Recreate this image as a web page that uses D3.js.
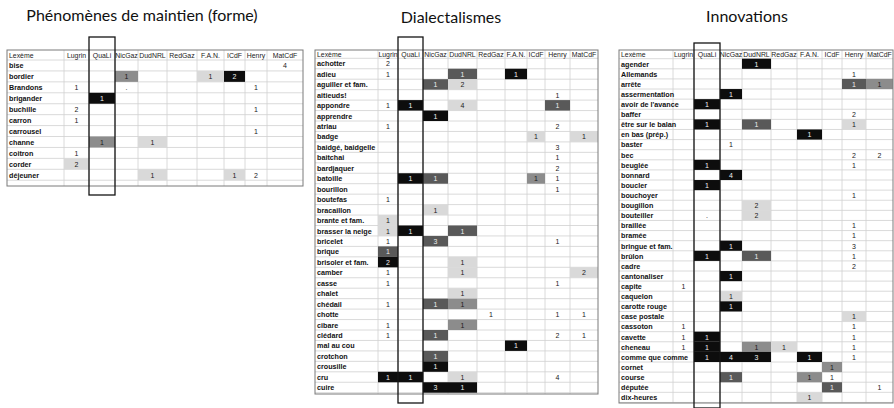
<!DOCTYPE html>
<html>
<head>
<meta charset="utf-8">
<script src="https://cdn.jsdelivr.net/npm/d3@7"></script>
<style>
  body { margin: 0; background: #fff; }
  svg { display: block; }
  text { font-family: "Liberation Sans", Arial, sans-serif; }
</style>
</head>
<body>
<svg id="chart" width="894" height="408"></svg>
<script>
// --- data ---
const columns = ["Lugrin", "QuaLi", "NicGaz", "DudNRL", "RedGaz", "F.A.N.", "ICdF", "Henry", "MatCdF"];
const titles = ["Phénomènes de maintien (forme)", "Dialectalismes", "Innovations"];

// level: 0 = no fill, 1 = light grey, 2 = grey, 3 = dark grey, 4 = black
const formeLexemes = ["bise", "bordier", "Brandons", "brigander", "buchille", "carron", "carrousel",
  "channe", "coitron", "corder", "déjeuner"];
const formeCells = [
  ["bise", "MatCdF", "4", 0],
  ["bordier", "NicGaz", "1", 2], ["bordier", "F.A.N.", "1", 1], ["bordier", "ICdF", "2", 4],
  ["Brandons", "Lugrin", "1", 0], ["Brandons", "NicGaz", ".", 0], ["Brandons", "Henry", "1", 0],
  ["brigander", "QuaLi", "1", 4],
  ["buchille", "Lugrin", "2", 0], ["buchille", "Henry", "1", 0],
  ["carron", "Lugrin", "1", 0],
  ["carrousel", "Henry", "1", 0],
  ["channe", "QuaLi", "1", 2], ["channe", "DudNRL", "1", 1],
  ["coitron", "Lugrin", "1", 0],
  ["corder", "Lugrin", "2", 1],
  ["déjeuner", "DudNRL", "1", 1], ["déjeuner", "ICdF", "1", 1], ["déjeuner", "Henry", "2", 0]
];

const dialLexemes = ["achotter", "adieu", "aguiller et fam.", "aitieuds!", "appondre", "apprendre",
  "atriau", "badge", "baidgé, baidgelle", "baitchai", "bardjaquer", "batoille", "bourillon",
  "boutefas", "bracaillon", "brante et fam.", "brasser la neige", "bricelet", "brique",
  "brisoler et fam.", "camber", "casse", "chalet", "chédail", "chotte", "cibare", "clédard",
  "mal au cou", "crotchon", "crousille", "cru", "cuire"];
const dialCells = [
  ["achotter", "Lugrin", "2", 0],
  ["adieu", "Lugrin", "1", 0], ["adieu", "DudNRL", "1", 3], ["adieu", "F.A.N.", "1", 4],
  ["aguiller et fam.", "NicGaz", "1", 3], ["aguiller et fam.", "DudNRL", "2", 1],
  ["aitieuds!", "Henry", "1", 0],
  ["appondre", "Lugrin", "1", 0], ["appondre", "QuaLi", "1", 4], ["appondre", "DudNRL", "4", 1], ["appondre", "Henry", "1", 3],
  ["apprendre", "NicGaz", "1", 4],
  ["atriau", "Lugrin", "1", 0], ["atriau", "Henry", "2", 0],
  ["badge", "ICdF", "1", 1], ["badge", "MatCdF", "1", 1],
  ["baidgé, baidgelle", "Henry", "3", 0],
  ["baitchai", "Henry", "1", 0],
  ["bardjaquer", "Henry", "2", 0],
  ["batoille", "QuaLi", "1", 4], ["batoille", "NicGaz", "1", 3], ["batoille", "ICdF", "1", 2], ["batoille", "Henry", "1", 0],
  ["bourillon", "Henry", "1", 0],
  ["boutefas", "Lugrin", "1", 0],
  ["bracaillon", "NicGaz", "1", 1],
  ["brante et fam.", "Lugrin", "1", 1],
  ["brasser la neige", "Lugrin", "1", 1], ["brasser la neige", "QuaLi", "1", 4], ["brasser la neige", "DudNRL", "1", 3],
  ["bricelet", "Lugrin", "1", 0], ["bricelet", "NicGaz", "3", 3], ["bricelet", "Henry", "1", 0],
  ["brique", "Lugrin", "1", 3],
  ["brisoler et fam.", "Lugrin", "2", 4], ["brisoler et fam.", "DudNRL", "1", 1],
  ["camber", "Lugrin", "1", 0], ["camber", "DudNRL", "1", 1], ["camber", "MatCdF", "2", 1],
  ["casse", "Lugrin", "1", 0], ["casse", "Henry", "1", 0],
  ["chalet", "DudNRL", "1", 1],
  ["chédail", "Lugrin", "1", 0], ["chédail", "NicGaz", "1", 3], ["chédail", "DudNRL", "1", 2],
  ["chotte", "RedGaz", "1", 0], ["chotte", "Henry", "1", 0], ["chotte", "MatCdF", "1", 0],
  ["cibare", "Lugrin", "1", 0], ["cibare", "DudNRL", "1", 2],
  ["clédard", "Lugrin", "1", 0], ["clédard", "NicGaz", "1", 3], ["clédard", "Henry", "2", 0], ["clédard", "MatCdF", "1", 0],
  ["mal au cou", "F.A.N.", "1", 4],
  ["crotchon", "NicGaz", "1", 3],
  ["crousille", "NicGaz", "1", 4],
  ["cru", "Lugrin", "1", 4], ["cru", "QuaLi", "1", 4], ["cru", "DudNRL", "1", 1], ["cru", "Henry", "4", 0],
  ["cuire", "NicGaz", "3", 4], ["cuire", "DudNRL", "1", 4]
];

const innoLexemes = ["agender", "Allemands", "arrête", "assermentation", "avoir de l'avance", "baffer",
  "être sur  le balan", "en bas (prép.)", "baster", "bec", "beuglée", "bonnard", "boucler",
  "bouchoyer", "bougillon", "bouteiller", "braillée", "bramée", "bringue et fam.", "brûlon",
  "cadre", "cantonaliser", "capite", "caquelon", "carotte rouge", "case postale", "cassoton",
  "cavette", "cheneau", "comme que comme", "cornet", "course", "députée", "dix-heures"];
const innoCells = [
  ["agender", "DudNRL", "1", 4],
  ["Allemands", "Henry", "1", 0],
  ["arrête", "Henry", "1", 3], ["arrête", "MatCdF", "1", 2],
  ["assermentation", "NicGaz", "1", 4],
  ["avoir de l'avance", "QuaLi", "1", 4],
  ["baffer", "Henry", "2", 0],
  ["être sur  le balan", "QuaLi", "1", 4], ["être sur  le balan", "DudNRL", "1", 3], ["être sur  le balan", "Henry", "1", 1],
  ["en bas (prép.)", "F.A.N.", "1", 4],
  ["baster", "NicGaz", "1", 0],
  ["bec", "Henry", "2", 0], ["bec", "MatCdF", "2", 0],
  ["beuglée", "QuaLi", "1", 4], ["beuglée", "Henry", "1", 0],
  ["bonnard", "NicGaz", "4", 4],
  ["boucler", "QuaLi", "1", 4],
  ["bouchoyer", "Henry", "1", 0],
  ["bougillon", "DudNRL", "2", 1],
  ["bouteiller", "QuaLi", ".", 0], ["bouteiller", "DudNRL", "2", 1],
  ["braillée", "Henry", "1", 0],
  ["bramée", "Henry", "1", 0],
  ["bringue et fam.", "NicGaz", "1", 4], ["bringue et fam.", "Henry", "3", 0],
  ["brûlon", "QuaLi", "1", 4], ["brûlon", "DudNRL", "1", 3], ["brûlon", "Henry", "1", 0],
  ["cadre", "Henry", "2", 0],
  ["cantonaliser", "NicGaz", "1", 4],
  ["capite", "Lugrin", "1", 0],
  ["caquelon", "NicGaz", "1", 1],
  ["carotte rouge", "NicGaz", "1", 4],
  ["case postale", "Henry", "1", 1],
  ["cassoton", "Lugrin", "1", 0], ["cassoton", "Henry", "1", 0],
  ["cavette", "Lugrin", "1", 0], ["cavette", "QuaLi", "1", 4], ["cavette", "Henry", "1", 0],
  ["cheneau", "Lugrin", "1", 0], ["cheneau", "QuaLi", "1", 4], ["cheneau", "DudNRL", "1", 2], ["cheneau", "RedGaz", "1", 1], ["cheneau", "Henry", "1", 0],
  ["comme que comme", "QuaLi", "1", 4], ["comme que comme", "NicGaz", "4", 4], ["comme que comme", "DudNRL", "3", 4], ["comme que comme", "F.A.N.", "1", 4], ["comme que comme", "Henry", "1", 0],
  ["cornet", "ICdF", "1", 2],
  ["course", "NicGaz", "1", 3], ["course", "F.A.N.", "1", 2], ["course", "ICdF", "1", 0],
  ["députée", "ICdF", "1", 3], ["députée", "MatCdF", "1", 0],
  ["dix-heures", "F.A.N.", "1", 1]
];

// --- layout ---
const tables = [
  { title: titles[0], lexemes: formeLexemes, cells: formeCells, titleX: 142, titleY: 21,
    edges: [7, 64, 89, 115, 138, 167, 197, 224, 245, 267, 303], top: 50, headH: 10, rowH: 10.93, bottom: 186,
    box: [89, 115, 37, 195] },
  { title: titles[1], lexemes: dialLexemes, cells: dialCells, titleX: 451, titleY: 23,
    edges: [315, 378, 398, 423, 448, 477, 505, 527, 545, 570, 598], top: 50, headH: 8.3, rowH: 10.45, bottom: 394,
    box: [398, 423, 37, 403] },
  { title: titles[2], lexemes: innoLexemes, cells: innoCells, titleX: 747, titleY: 22,
    edges: [619, 673, 694, 720, 742, 771, 797, 822, 842, 866, 893], top: 50, headH: 8.7, rowH: 10.11, bottom: 403,
    box: [694, 720, 43, 408] }
];

const fill = d3.scaleOrdinal().domain([0, 1, 2, 3, 4])
  .range(["none", "#d9d9d9", "#8c8c8c", "#595959", "#0d0d0d"]);
const ink = d3.scaleOrdinal().domain([0, 1, 2, 3, 4])
  .range(["#1a1a1a", "#1a1a1a", "#1a1a1a", "#eeeeee", "#f2f2f2"]);

const svg = d3.select("#chart");
svg.append("rect").attr("width", 894).attr("height", 408).attr("fill", "#fff");

tables.forEach(function (t) {
  const g = svg.append("g");
  const n = t.lexemes.length;
  const keys = ["Lexème"].concat(columns);
  const x = d3.scaleOrdinal().domain(keys).range(t.edges.slice(0, -1));
  const w = d3.scaleOrdinal().domain(keys).range(t.edges.slice(1).map((e, i) => e - t.edges[i]));
  const y = d3.scaleBand().domain(t.lexemes)
    .range([t.top + t.headH, t.top + t.headH + n * t.rowH]).paddingInner(0).paddingOuter(0);
  const x0 = t.edges[0], x1 = t.edges[t.edges.length - 1];

  // title
  g.append("text")
    .attr("x", t.titleX).attr("y", t.titleY)
    .attr("text-anchor", "middle")
    .style("font-family", "Lato, 'Open Sans', sans-serif")
    .style("font-size", "16px")
    .attr("fill", "#111")
    .text(t.title);

  // grid
  const hLines = [t.top + t.headH].concat(t.lexemes.map(d => y(d) + y.bandwidth()));
  g.selectAll("line.h").data(hLines).enter().append("line")
    .attr("x1", x0).attr("x2", x1)
    .attr("y1", d => d).attr("y2", d => d)
    .attr("stroke", "#d0d0d0").attr("stroke-width", 0.8);
  g.selectAll("line.v").data(t.edges.slice(1, -1)).enter().append("line")
    .attr("x1", d => d).attr("x2", d => d)
    .attr("y1", t.top).attr("y2", t.bottom)
    .attr("stroke", "#d0d0d0").attr("stroke-width", 0.8);

  // filled cells
  g.selectAll("rect.cell").data(t.cells.filter(d => d[3] > 0)).enter().append("rect")
    .attr("x", d => x(d[1]))
    .attr("y", d => y(d[0]))
    .attr("width", d => w(d[1]))
    .attr("height", y.bandwidth())
    .attr("fill", d => fill(d[3]));

  // outer border
  g.append("rect")
    .attr("x", x0).attr("y", t.top)
    .attr("width", x1 - x0).attr("height", t.bottom - t.top)
    .attr("fill", "none").attr("stroke", "#7a7a7a").attr("stroke-width", 1);

  // header
  g.selectAll("text.head").data(keys).enter().append("text")
    .attr("x", d => d === "Lexème" ? x(d) + 2 : x(d) + w(d) / 2)
    .attr("y", t.top + t.headH / 2 + 0.5)
    .attr("text-anchor", d => d === "Lexème" ? "start" : "middle")
    .attr("dominant-baseline", "central")
    .style("font-size", "6.9px")
    .attr("fill", "#222")
    .text(d => d);

  // lexemes
  g.selectAll("text.lex").data(t.lexemes).enter().append("text")
    .attr("x", x0 + 2)
    .attr("y", d => y(d) + y.bandwidth() / 2 + 0.3)
    .attr("dominant-baseline", "central")
    .style("font-size", "7.2px")
    .style("font-weight", "bold")
    .attr("fill", "#111")
    .text(d => d);

  // values
  g.selectAll("text.val").data(t.cells).enter().append("text")
    .attr("x", d => x(d[1]) + w(d[1]) / 2)
    .attr("y", d => y(d[0]) + y.bandwidth() / 2 + 0.3)
    .attr("text-anchor", "middle")
    .attr("dominant-baseline", "central")
    .style("font-size", "7px")
    .attr("fill", d => ink(d[3]))
    .text(d => d[2]);

  // QuaLi frame
  g.append("rect")
    .attr("x", t.box[0]).attr("y", t.box[2])
    .attr("width", t.box[1] - t.box[0]).attr("height", t.box[3] - t.box[2])
    .attr("fill", "none").attr("stroke", "#151515").attr("stroke-width", 1.3);
});
</script>
</body>
</html>
